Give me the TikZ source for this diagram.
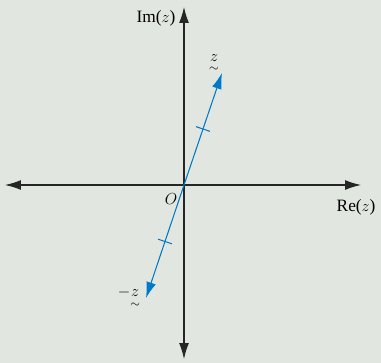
\documentclass[tikz,border=0pt]{standalone}
\usepackage{amsmath,amssymb}
\usepackage{fontspec}
\setmainfont{Liberation Serif}
\usetikzlibrary{arrows.meta,calc}
\definecolor{bgpanel}{RGB}{226,230,224}
\definecolor{vecblue}{RGB}{0,122,200}
\newcommand{\tvec}[1]{\underset{\sim}{#1}}

\begin{document}
\begin{tikzpicture}[x=0.75pt, y=-0.75pt, font=\fontsize{13}{15}\selectfont,
    axis/.style={thick, black!85, {Latex[length=4.2mm,width=2.6mm]}-{Latex[length=4.2mm,width=2.6mm]}},
    vec/.style={thick, vecblue, -{Latex[length=4.2mm,width=2.6mm]}}]
        \fill[bgpanel] (0,0) rectangle (381,363);
        \useasboundingbox (0,0) rectangle (381,363);
        \coordinate (O) at (184,185);
        \coordinate (west) at (5,185);
        \coordinate (east) at (361,185);
        \coordinate (north) at (184,7);
        \coordinate (south) at (184,359);
        \coordinate (z) at (222,73);
        \coordinate (mz) at (146,298);
        \draw[axis] (west) -- (east);
        \draw[axis] (south) -- (north);
        \draw[vec] (O) -- (z);
        \draw[vec] (O) -- (mz);
        % tick marks half way along each vector
        \foreach \p in {z,mz}{
          \draw[vecblue, thick] ($(O)!0.5!(\p)!5.5pt!90:(\p)$) -- ($(O)!0.5!(\p)!5.5pt!-90:(\p)$);
        }
        \node[anchor=east] (imlab) at (180,18) {Im($z$)};
        \node[anchor=west] (relab) at (332,207) {Re($z$)};
        \node (olab) at (171,199) {$O$};
        \node (zlab) at (214,64) {$\tvec{z}$};
        \node (mzlab) at (129,298) {$-\tvec{z}$};
      \end{tikzpicture}
\end{document}
